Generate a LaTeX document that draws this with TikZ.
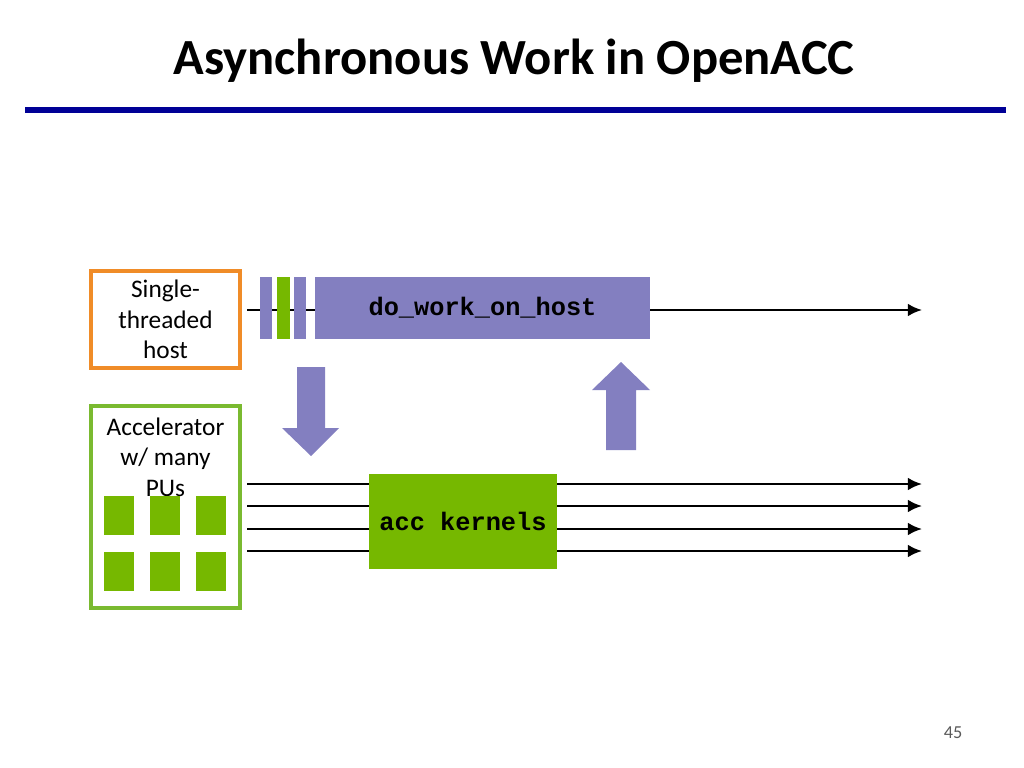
\documentclass[tikz,border=0pt]{standalone}
\usepackage{fontspec}
\setmainfont{Carlito}
\setmonofont{Liberation Mono}
\usetikzlibrary{arrows.meta}
\definecolor{bleutitre}{RGB}{0,0,150}
\definecolor{violethote}{RGB}{131,127,192}
\definecolor{vertacc}{RGB}{118,184,0}
\definecolor{vertbord}{RGB}{122,186,48}
\definecolor{orangehote}{RGB}{240,140,40}
\definecolor{grispage}{RGB}{90,90,90}
\begin{document}
\begin{tikzpicture}[x=0.025cm, y=-0.025cm]
			\tikzset{boite/.style={draw, line width=2.2pt, fill=white, inner sep=0, minimum width=3.725cm},
				tache/.style={fill=violethote, inner sep=0, minimum height=1.55cm},
				pu/.style={fill=vertacc, inner sep=0, minimum width=0.725cm, minimum height=0.975cm},
				fleche/.style={-{Latex[length=10pt, width=9pt]}, line width=1.6pt},
				texte/.style={font=\fontsize{18}{21.6}\selectfont, align=center},
				code/.style={font=\fontsize{18}{21.6}\selectfont\ttfamily\bfseries}};

			\useasboundingbox (0,0) rectangle (1024,768);

			\node[font=\fontsize{36}{43}\selectfont\bfseries] (titre) at (514,61) {Asynchronous Work in OpenACC};
			\fill[bleutitre] (25,107) rectangle (1006,113);

			% hote
			\node[boite, draw=orangehote, minimum height=2.425cm] (hote) at (165.5,319.5) {};
			\node[texte] (hotetxt) at (hote) {Single-\\threaded\\host};

			% accelerateur
			\node[boite, draw=vertbord, minimum height=5.05cm] (acc) at (165.5,507) {};
			\node[texte, anchor=north] (acctxt) at (165.5,413) {Accelerator\\w/ many\\PUs};
			\foreach \i/\x in {1/119,2/165,3/211}
				\foreach \j/\y in {1/515.5,2/571.5}
					\node[pu] (pu\i\j) at (\x,\y) {};

			% ligne de l'hote
			\coordinate (h0) at (247,310);
			\coordinate (h1) at (922,310);
			\node[tache, minimum width=8.375cm] (travail) at (482.5,308) {};
			\draw[line width=1.6pt] (h0) -- (travail.west |- h0);
			\node[tache, minimum width=0.3cm] (b1) at (266,308) {};
			\node[tache, fill=vertacc, minimum width=0.325cm] (b2) at (283.5,308) {};
			\node[tache, minimum width=0.3cm] (b3) at (300,308) {};
			\node[code] at (travail) {do\_work\_on\_host};
			\draw[fleche] (travail.east |- h0) -- (h1);

			% lignes de l'accelerateur
			\foreach \k/\y in {1/484,2/506,3/529,4/551}{
				\coordinate (a\k) at (247,\y);
				\coordinate (z\k) at (922,\y);
				\draw[fleche] (a\k) -- (z\k);
			}
			\node[fill=vertacc, inner sep=0, minimum width=4.7cm, minimum height=2.375cm] (noyau) at (463,521.5) {};
			\node[code] at (noyau) {acc kernels};

			% fleches pleines
			\fill[violethote] (297,367) -- (325,367) -- (325,428) -- (339,428) -- (311,456) -- (282,428) -- (297,428) -- cycle;
			\fill[violethote] (606,450) -- (636,450) -- (636,390) -- (650,390) -- (621,362) -- (592,390) -- (606,390) -- cycle;

			\node[text=grispage, font=\fontsize{13}{15}\selectfont] (page) at (953,733) {45};

		\end{tikzpicture}
\end{document}
